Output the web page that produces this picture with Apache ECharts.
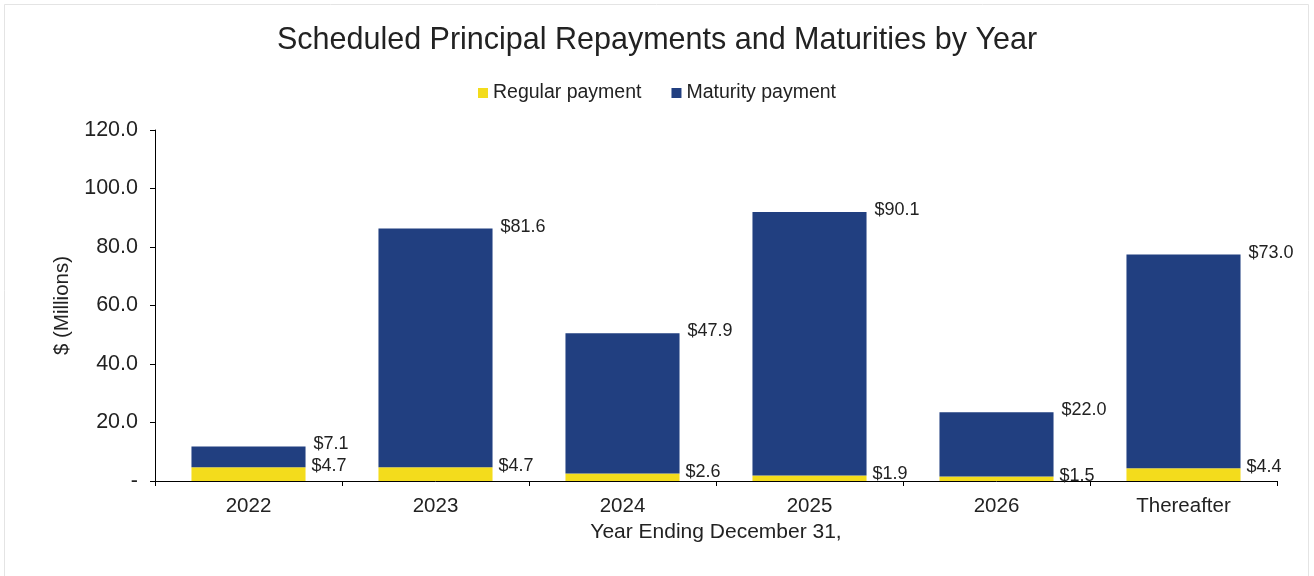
<!DOCTYPE html>
<html>
<head>
<meta charset="utf-8">
<script src="https://cdn.jsdelivr.net/npm/echarts@6/dist/echarts.min.js"></script>
<style>
  html, body { margin: 0; padding: 0; background: #fff; }
  #chart { width: 1314px; height: 576px; }
</style>
</head>
<body>
<div id="chart"></div>
<script>
// chart data
var years = ['2022', '2023', '2024', '2025', '2026', 'Thereafter']
var regularPayment = [4.7, 4.7, 2.6, 1.9, 1.5, 4.4]
var maturityPayment = [7.1, 81.6, 47.9, 90.1, 22.0, 73.0]
var yTicks = [0, 20, 40, 60, 80, 100, 120]

var FONT = 'Liberation Sans, Arial, sans-serif'

function moneyLabel(p) {
  return '$' + p.value.toFixed(1)
}

var chart = echarts.init(document.getElementById('chart'))
chart.setOption({
  animation: false,
  backgroundColor: '#fff',
  textStyle: { fontFamily: FONT },
  graphic: [
    {
      type: 'rect',
      shape: { x: 4.5, y: 4.5, width: 1304, height: 600 },
      style: { fill: 'none', stroke: '#e4e4e4', lineWidth: 1 },
      silent: true
    }
  ],
  title: {
    text: 'Scheduled Principal Repayments and Maturities by Year',
    left: 'center',
    top: 20,
    textStyle: { fontFamily: FONT, fontSize: 30.5, fontWeight: 'normal', color: '#222' }
  },
  legend: {
    top: 78,
    left: 'center',
    itemWidth: 10,
    itemHeight: 10,
    itemGap: 30,
    icon: 'rect',
    textStyle: { fontFamily: FONT, fontSize: 19.5, color: '#222' },
    data: ['Regular payment', 'Maturity payment']
  },
  grid: { left: 155, right: 37, top: 130, bottom: 95 },
  xAxis: {
    type: 'category',
    data: years,
    name: 'Year Ending December 31,',
    nameLocation: 'middle',
    nameGap: 40,
    nameTextStyle: { fontFamily: FONT, fontSize: 21, color: '#222' },
    axisLine: { lineStyle: { color: '#000', width: 1 } },
    axisTick: { show: true, length: 5, lineStyle: { color: '#000' } },
    axisLabel: { fontFamily: FONT, fontSize: 20.5, color: '#222', margin: 15 }
  },
  yAxis: {
    type: 'value',
    min: yTicks[0],
    max: yTicks[yTicks.length - 1],
    interval: yTicks[1] - yTicks[0],
    name: '$ (Millions)',
    nameLocation: 'middle',
    nameGap: 80,
    nameTextStyle: { fontFamily: FONT, fontSize: 20.5, color: '#222' },
    splitLine: { show: false },
    axisLine: { show: true, lineStyle: { color: '#000', width: 1 } },
    axisTick: { show: true, length: 5, lineStyle: { color: '#000' } },
    axisLabel: {
      fontFamily: FONT,
      fontSize: 21.5,
      color: '#222',
      margin: 17,
      formatter: function (v) {
        return v === 0 ? '-' : v.toFixed(1)
      }
    }
  },
  series: [
    {
      name: 'Regular payment',
      type: 'bar',
      stack: 'pay',
      barWidth: '61%',
      itemStyle: { color: '#f3dc1c' },
      label: {
        show: true,
        position: ['100%', 0],
        align: 'left',
        verticalAlign: 'middle',
        offset: [6, -1],
        fontFamily: FONT,
        fontSize: 18,
        color: '#222',
        formatter: moneyLabel
      },
      data: regularPayment
    },
    {
      name: 'Maturity payment',
      type: 'bar',
      stack: 'pay',
      itemStyle: { color: '#213f80' },
      label: {
        show: true,
        position: ['100%', 0],
        align: 'left',
        verticalAlign: 'middle',
        offset: [8, -2],
        fontFamily: FONT,
        fontSize: 18,
        color: '#222',
        formatter: moneyLabel
      },
      data: maturityPayment
    }
  ]
})
</script>
</body>
</html>
